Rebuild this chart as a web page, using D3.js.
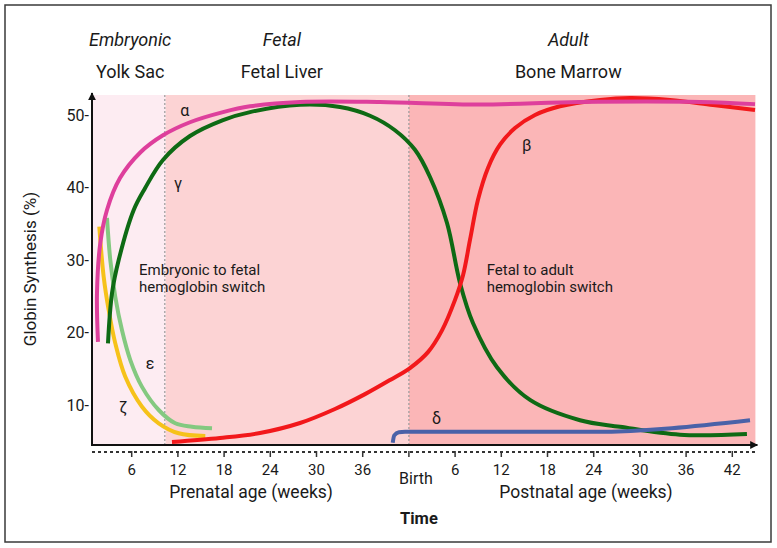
<!DOCTYPE html>
<html lang="en">
<head>
<meta charset="UTF-8">
<title>Globin synthesis</title>
<script src="https://d3js.org/d3.v7.min.js"></script>
<style>
  body { margin: 0; background: #fff; }
  svg text { font-family: Roboto, "Noto Sans", sans-serif; fill: #1a1a1a; }
</style>
</head>
<body>
<svg width="777" height="548"></svg>
<script>
// weeks on one axis: prenatal 0..42, birth at 42, postnatal week p -> 42 + p
const birthWeek = 42;
const prenatalTicks = [6, 12, 18, 24, 30, 36];
const postnatalTicks = [6, 12, 18, 24, 30, 36, 42];
const yTicks = [10, 20, 30, 40, 50];

// [week, %]
const alphaGlobin = [[1.62, 18.7], [1.49, 25.4], [1.92, 32.3], [2.79, 36.9], [4.48, 41.3], [7.08, 44.8],
  [10.06, 47.2], [13.57, 49.0], [17.86, 50.4], [21.36, 51.2], [27.86, 51.8], [38.25, 51.8], [51.2, 51.45],
  [64.2, 51.8], [79.8, 51.8], [86.95, 51.5]];
const gammaGlobin = [[2.92, 18.5], [3.44, 25.4], [4.31, 30.0], [6.26, 36.9], [7.73, 39.9], [10.06, 43.8],
  [13.57, 47.1], [17.86, 49.3], [21.36, 50.4], [27.86, 51.4], [33.05, 51.1], [36.95, 49.9], [40.19, 47.9],
  [42.79, 45.2], [44.74, 41.45], [46.95, 35.1], [48.64, 26.8], [50.32, 21.3], [53.44, 15.2], [57.73, 10.7],
  [64.22, 7.9], [69.4, 7.0], [77.2, 5.9], [85.9, 6.0]];
const betaGlobin = [[11.23, 4.9], [17.47, 5.45], [22.66, 6.14], [27.86, 7.52], [32.4, 9.45], [36.3, 11.5],
  [39.55, 13.45], [42.14, 15.1], [44.48, 17.3], [46.3, 20.3], [47.99, 24.5], [49.03, 27.9], [49.94, 32.8],
  [50.97, 38.3], [52.27, 42.7], [53.83, 45.9], [55.78, 48.2], [58.38, 50.0], [61.62, 51.2], [66.82, 52.07],
  [70.71, 52.34], [75.91, 52.07], [81.49, 51.38], [86.95, 50.7]];
const zetaGlobin = [[1.79, 34.6], [2.36, 27.7], [3.01, 23.1], [3.87, 18.5], [5.17, 13.9], [7.34, 9.77],
  [9.51, 7.48], [12.1, 6.1], [15.56, 5.72]];
const epsilonGlobin = [[2.79, 35.8], [3.22, 30.0], [3.87, 24.9], [4.74, 20.3], [5.82, 16.2], [7.34, 12.5],
  [9.51, 9.31], [11.66, 7.48], [13.83, 7.01], [16.43, 6.79]];
const deltaGlobin = [[39.9, 4.8], [40.1, 5.8], [40.7, 6.25], [41.5, 6.3], [66, 6.3], [86.3, 7.9]];

const series = [
  { name: "ζ", data: zetaGlobin, color: "#f6c21a", label: [4.9, 9.7] },
  { name: "ε", data: epsilonGlobin, color: "#84c980", label: [8.4, 15.8] },
  { name: "γ", data: gammaGlobin, color: "#0e6a14", label: [12.0, 40.6] },
  { name: "β", data: betaGlobin, color: "#f2181b", label: [57.3, 45.9] },
  { name: "δ", data: deltaGlobin, color: "#4a62a8", label: [45.6, 8.2], monotone: true },
  { name: "α", data: alphaGlobin, color: "#de3f9c", label: [12.9, 50.7] }
];

// stage bands: [from week, to week]
const stages = [
  { stage: "Embryonic", site: "Yolk Sac", from: 0.85, to: 10.4, fill: "#fdecf2", labelAt: 5.8 },
  { stage: "Fetal", site: "Fetal Liver", from: 10.4, to: birthWeek, fill: "#fcd3d4", labelAt: 25.5 },
  { stage: "Adult", site: "Bone Marrow", from: birthWeek, to: 87, fill: "#fbb6b7", labelAt: 62.7 }
];
const dividers = [10.3, birthWeek];
const switches = [
  { at: [6.95, 27.9], lines: ["Embryonic to fetal", "hemoglobin switch"] },
  { at: [52.1, 27.9], lines: ["Fetal to adult", "hemoglobin switch"] }
];

const svg = d3.select("svg");
const x = d3.scaleLinear().domain([0, 87]).range([85.5, 755.4]);
const y = d3.scaleLinear().domain([0, 50]).range([477.5, 115]);
const plotTop = 95, plotBottom = 445, axisX = 92;

// frame
svg.append("rect").attr("x", 5).attr("y", 5).attr("width", 766).attr("height", 537)
  .attr("fill", "#fff").attr("stroke", "#3a3a3a").attr("stroke-width", 1.5);

// background bands
svg.append("g").selectAll("rect").data(stages).join("rect")
  .attr("x", d => x(d.from)).attr("width", d => x(d.to) - x(d.from))
  .attr("y", plotTop).attr("height", plotBottom - plotTop)
  .attr("fill", d => d.fill);

svg.append("g").selectAll("line").data(dividers).join("line")
  .attr("x1", d => x(d)).attr("x2", d => x(d))
  .attr("y1", plotTop).attr("y2", plotBottom)
  .attr("stroke", "#9a9a9a").attr("stroke-width", 1.2).attr("stroke-dasharray", "2,2");

// stage headers
const headers = svg.append("g").attr("text-anchor", "middle").attr("font-size", 18);
headers.selectAll(".stage").data(stages).join("text").attr("class", "stage")
  .attr("x", d => x(d.labelAt)).attr("y", 46).attr("font-style", "italic").text(d => d.stage);
headers.selectAll(".site").data(stages).join("text").attr("class", "site")
  .attr("x", d => x(d.labelAt)).attr("y", 78).text(d => d.site);

// curves
const line = d3.line().x(d => x(d[0])).y(d => y(d[1]));
svg.append("g").selectAll("path").data(series).join("path")
  .attr("d", d => line.curve(d.monotone ? d3.curveMonotoneX : d3.curveCatmullRom.alpha(0.5))(d.data))
  .attr("fill", "none").attr("stroke", d => d.color).attr("stroke-width", 4)
  .attr("stroke-linejoin", "round");

svg.append("g").attr("font-size", 16).attr("text-anchor", "middle")
  .selectAll("text").data(series).join("text")
  .attr("x", d => x(d.label[0])).attr("y", d => y(d.label[1]) + 6).text(d => d.name);

// switch annotations
svg.append("g").attr("font-size", 15).selectAll("text").data(switches).join("text")
  .attr("x", d => x(d.at[0])).attr("y", d => y(d.at[1]))
  .selectAll("tspan").data(d => d.lines.map(l => [l, d])).join("tspan")
  .attr("x", d => x(d[1].at[0])).attr("dy", (d, i) => i ? 17 : 0).text(d => d[0]);

// axes with arrow heads
svg.append("defs").append("marker").attr("id", "arrow")
  .attr("viewBox", "0 0 10 10").attr("refX", 9).attr("refY", 5)
  .attr("markerWidth", 4).attr("markerHeight", 4).attr("orient", "auto")
  .append("path").attr("d", "M0,0L10,5L0,10Z").attr("fill", "#111");

svg.append("line").attr("x1", axisX).attr("x2", axisX).attr("y1", plotBottom).attr("y2", plotTop - 2)
  .attr("stroke", "#111").attr("stroke-width", 2).attr("marker-end", "url(#arrow)");
svg.append("line").attr("x1", axisX - 1).attr("x2", x(87) + 2).attr("y1", plotBottom).attr("y2", plotBottom)
  .attr("stroke", "#111").attr("stroke-width", 2).attr("marker-end", "url(#arrow)");

const yAxis = svg.append("g").attr("transform", `translate(${axisX},0)`)
  .call(d3.axisLeft(y).tickValues(yTicks).tickSize(0).tickPadding(3).tickFormat(d => d + "-"));
yAxis.select(".domain").remove();
yAxis.selectAll("text").attr("font-size", 16).attr("font-family", "Roboto, sans-serif").attr("fill", "#1a1a1a");

// dotted time axis
const timeY = 452;
svg.append("line").attr("x1", axisX).attr("x2", x(87)).attr("y1", timeY).attr("y2", timeY)
  .attr("stroke", "#333").attr("stroke-width", 2).attr("stroke-dasharray", "3,3");

const tickWeeks = prenatalTicks.map(w => ({ t: w, label: String(w) }))
  .concat(postnatalTicks.map(w => ({ t: birthWeek + w, label: String(w) })));
svg.append("g").selectAll("line").data(tickWeeks.concat([{ t: birthWeek }])).join("line")
  .attr("x1", d => x(d.t)).attr("x2", d => x(d.t)).attr("y1", timeY - 1).attr("y2", timeY + 5)
  .attr("stroke", "#333").attr("stroke-width", 1.5);
svg.append("g").attr("font-size", 15).attr("text-anchor", "middle")
  .selectAll("text").data(tickWeeks).join("text")
  .attr("x", d => x(d.t)).attr("y", 475).text(d => d.label);

svg.append("text").attr("x", x(birthWeek) + 7).attr("y", 484).attr("text-anchor", "middle")
  .attr("font-size", 16).text("Birth");
svg.append("text").attr("x", x(21.5)).attr("y", 498).attr("text-anchor", "middle")
  .attr("font-size", 17.5).text("Prenatal age (weeks)");
svg.append("text").attr("x", x(birthWeek + 23)).attr("y", 498).attr("text-anchor", "middle")
  .attr("font-size", 17.5).text("Postnatal age (weeks)");
svg.append("text").attr("x", x(birthWeek) + 10).attr("y", 524).attr("text-anchor", "middle")
  .attr("font-size", 16.5).attr("font-weight", "bold").text("Time");

svg.append("text").attr("transform", "translate(36,269) rotate(-90)").attr("text-anchor", "middle")
  .attr("font-size", 17).text("Globin Synthesis (%)");
</script>
</body>
</html>
